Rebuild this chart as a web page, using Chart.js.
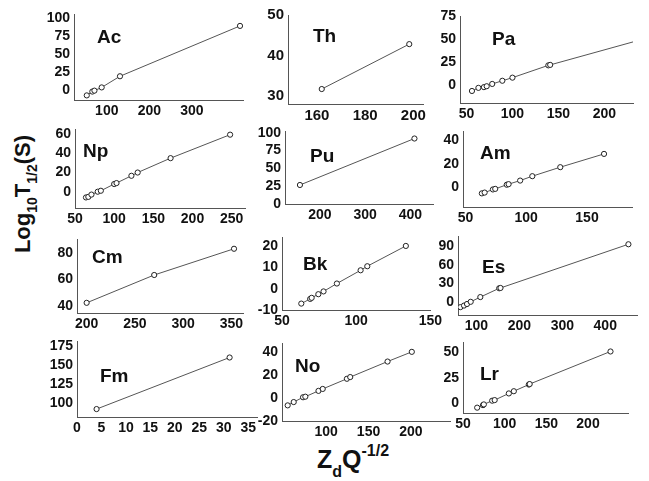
<!DOCTYPE html>
<html>
<head>
<meta charset="utf-8">
<script src="https://cdn.jsdelivr.net/npm/chart.js@4.4.0/dist/chart.umd.min.js"></script>
<style>
  body { margin: 0; background: #fff; width: 649px; height: 481px; position: relative; overflow: hidden; }
  canvas { position: absolute; }
  .title { position: absolute; font-family: 'Liberation Sans', Arial, sans-serif; font-weight: bold; white-space: nowrap; color: #111; }
  .title .sub, .title .sup { position: relative; line-height: 0; }
  #ytitle { left: -47px; top: 179px; width: 140px; height: 30px; line-height: 30px; font-size: 22px; text-align: center; transform: rotate(-90deg); }
  #ytitle .sub { font-size: 14px; top: 7px; }
  #xtitle { left: 317px; top: 444px; height: 30px; line-height: 30px; font-size: 25px; }
  #xtitle .sub { font-size: 16px; top: 9px; }
  #xtitle .sup { font-size: 16px; top: -12px; }
</style>
</head>
<body>
<div id="ytitle" class="title">Log<span class="sub">10</span>T<span class="sub">1/2</span>(S)</div>
<div id="xtitle" class="title">Z<span class="sub">d</span>Q<span class="sup">-1/2</span></div>
<script>
// values, one pair of arrays per element
const acX = [53, 66, 71, 88, 131, 413];
const acY = [-7.6, -2.3, -1, 3.5, 19, 89];
const thX = [162, 198.3];
const thY = [31.7, 42.8];
const paX = [56, 63, 69, 72, 78, 89, 100, 139, 141];
const paY = [-6.8, -3.4, -2.6, -1.6, 0.9, 4.4, 7.8, 21.3, 21.8];
const paTail = { x: 231, y: 47 };   // fitted line runs on past the last point
const npX = [64, 67, 71, 79, 83, 100, 103, 122, 130, 172, 248];
const npY = [-6, -5.4, -3, 0, 1, 8, 9, 16.6, 20, 35, 59.5];
const puX = [156, 409];
const puY = [26.7, 92];
const amX = [63.5, 65.8, 72.6, 74.5, 84, 85.5, 95, 105, 128, 164];
const amY = [-5.7, -5, -2.3, -1.8, 1.8, 2.3, 5.4, 9.2, 17, 28.5];
const cmX = [200, 270, 352.7];
const cmY = [42.6, 63.4, 83];
const bkX = [63, 69, 70, 74.5, 78, 87, 103, 107.5, 133.5];
const bkY = [-7, -4.8, -4.3, -2.6, -1.3, 2.4, 8.6, 10.5, 20];
const esX = [62.6, 71, 78, 86.6, 109, 153, 156, 454];
const esY = [-7.5, -5, -2.5, 1, 8.5, 22.5, 23, 92.5];
const fmX = [4, 31.2];
const fmY = [91.6, 160.5];
const noX = [54.7, 61.8, 72.8, 75.5, 91, 96, 124.5, 128.4, 172.4, 201];
const noY = [-6.3, -3.4, 0.8, 1.3, 6.4, 8.1, 17, 18.5, 32.1, 40.6];
const lrX = [67, 74, 75, 85, 88, 105, 111, 129, 130, 227];
const lrY = [-4.7, -2.2, -1.5, 2.2, 2.8, 9.4, 11.6, 18.2, 18.7, 51];

// tick labels
const acXTicks = [100, 200, 300], acYTicks = [0, 25, 50, 75, 100];
const thXTicks = [160, 180, 200], thYTicks = [30, 40, 50];
const paXTicks = [50, 100, 150, 200], paYTicks = [0, 25, 50, 75];
const npXTicks = [50, 100, 150, 200, 250], npYTicks = [0, 20, 40, 60];
const puXTicks = [200, 300, 400], puYTicks = [0, 25, 50, 75, 100];
const amXTicks = [50, 100, 150], amYTicks = [0, 20, 40];
const cmXTicks = [200, 250, 300, 350], cmYTicks = [40, 60, 80];
const bkXTicks = [50, 100, 150], bkYTicks = [-10, 0, 10, 20];
const esXTicks = [100, 200, 300, 400], esYTicks = [0, 30, 60, 90];
const fmXTicks = [0, 5, 10, 15, 20, 25, 30, 35], fmYTicks = [100, 125, 150, 175];
const noXTicks = [100, 150, 200], noYTicks = [-20, 0, 20, 40];
const lrXTicks = [50, 100, 150, 200], lrYTicks = [0, 25, 50];

// box = plot area [left, top, right, bottom] on the page, lab = label left/baseline
const panels = [
  { name: 'Ac', x: acX, y: acY, xt: acXTicks, yt: acYTicks, xr: [23, 420], yr: [-14, 105], box: [74, 10, 243, 100], lab: [97, 43] },
  { name: 'Th', x: thX, y: thY, xt: thXTicks, yt: thYTicks, xr: [148, 204], yr: [28, 50], box: [288, 10, 423, 104], lab: [313, 42], fs: 15 },
  { name: 'Pa', x: paX, y: paY, xt: paXTicks, yt: paYTicks, xr: [43, 231], yr: [-20, 75], box: [460, 12, 633, 103], lab: [492, 45], tail: paTail },
  { name: 'Np', x: npX, y: npY, xt: npXTicks, yt: npYTicks, xr: [50, 267], yr: [-17, 65], box: [75, 125, 245, 208], lab: [83, 157] },
  { name: 'Pu', x: puX, y: puY, xt: puXTicks, yt: puYTicks, xr: [123, 450], yr: [0, 102], box: [285, 127, 433, 204], lab: [310, 162] },
  { name: 'Am', x: amX, y: amY, xt: amXTicks, yt: amYTicks, xr: [48, 187], yr: [-17.5, 48], box: [463, 127, 632, 207], lab: [480, 159] },
  { name: 'Cm', x: cmX, y: cmY, xt: cmXTicks, yt: cmYTicks, xr: [190, 362], yr: [35, 90], box: [77, 235, 243, 313], lab: [92, 263] },
  { name: 'Bk', x: bkX, y: bkY, xt: bkXTicks, yt: bkYTicks, xr: [50, 150], yr: [-10, 24], box: [282, 233, 433, 310], lab: [303, 270] },
  { name: 'Es', x: esX, y: esY, xt: esXTicks, yt: esYTicks, xr: [57, 474], yr: [-20, 105], box: [458, 232, 637, 315], lab: [482, 273] },
  { name: 'Fm', x: fmX, y: fmY, xt: fmXTicks, yt: fmYTicks, xr: [0, 36.8], yr: [81, 182], box: [77, 337, 257, 417], lab: [100, 382] },
  { name: 'No', x: noX, y: noY, xt: noXTicks, yt: noYTicks, xr: [48, 246], yr: [-20, 48], box: [282, 339, 450, 421], lab: [295, 372] },
  { name: 'Lr', x: lrX, y: lrY, xt: lrXTicks, yt: lrYTicks, xr: [50, 248], yr: [-10, 60], box: [463, 338, 628, 413], lab: [480, 380] }
];

const PAD_L = 50, PAD_T = 8, PAD_R = 12, PAD_B = 24;
const FAMILY = "'Liberation Sans Narrow', 'Liberation Sans', Arial, sans-serif";

const elemLabel = {
  id: 'elemLabel',
  afterDraw(chart, args, opts) {
    const ctx = chart.ctx;
    ctx.save();
    ctx.font = "bold 19px 'Liberation Sans', Arial, sans-serif";
    ctx.fillStyle = '#111';
    ctx.textBaseline = 'alphabetic';
    ctx.fillText(opts.text, opts.x, opts.y);
    ctx.restore();
  }
};

function drawPanel(p) {
  const [l, t, r, b] = p.box;
  const cv = document.createElement('canvas');
  cv.width = r - l + PAD_L + PAD_R;
  cv.height = b - t + PAD_T + PAD_B;
  cv.style.left = (l - PAD_L) + 'px';
  cv.style.top = (t - PAD_T) + 'px';
  document.body.appendChild(cv);

  const pts = p.x.map((v, i) => ({ x: v, y: p.y[i] }));
  const nMarked = pts.length;
  if (p.tail) pts.push(p.tail);

  const fs = p.fs || 14;
  const family = p.fs ? "'Liberation Sans', Arial, sans-serif" : FAMILY;
  const tickFont = { family: family, size: fs, weight: 'bold' };

  new Chart(cv, {
    type: 'scatter',
    data: {
      datasets: [{
        data: pts,
        showLine: true,
        borderColor: '#555',
        borderWidth: 1,
        tension: 0,
        pointRadius: ctx => ctx.dataIndex < nMarked ? 2.6 : 0,
        pointBackgroundColor: '#fff',
        pointBorderColor: '#222',
        pointBorderWidth: 1
      }]
    },
    options: {
      responsive: false,
      animation: false,
      layout: { padding: { left: 0, top: PAD_T, right: PAD_R, bottom: 0 } },
      plugins: {
        legend: { display: false },
        tooltip: { enabled: false },
        elemLabel: { text: p.name, x: p.lab[0] - (l - PAD_L), y: p.lab[1] - (t - PAD_T) }
      },
      scales: {
        x: {
          type: 'linear',
          min: p.xr[0],
          max: p.xr[1],
          grid: { display: false, drawTicks: false },
          border: { display: true, color: '#555', width: 1 },
          ticks: { font: tickFont, color: '#111', padding: 3, autoSkip: false, maxRotation: 0 },
          afterBuildTicks: s => { s.ticks = p.xt.map(v => ({ value: v })); },
          afterFit: s => { s.height = PAD_B; }
        },
        y: {
          type: 'linear',
          min: p.yr[0],
          max: p.yr[1],
          grid: { display: false, drawTicks: false },
          border: { display: true, color: '#555', width: 1 },
          ticks: { font: tickFont, color: '#111', padding: 4, autoSkip: false },
          afterBuildTicks: s => { s.ticks = p.yt.map(v => ({ value: v })); },
          afterFit: s => { s.width = PAD_L; }
        }
      }
    },
    plugins: [elemLabel]
  });
}

panels.forEach(drawPanel);
</script>
</body>
</html>
